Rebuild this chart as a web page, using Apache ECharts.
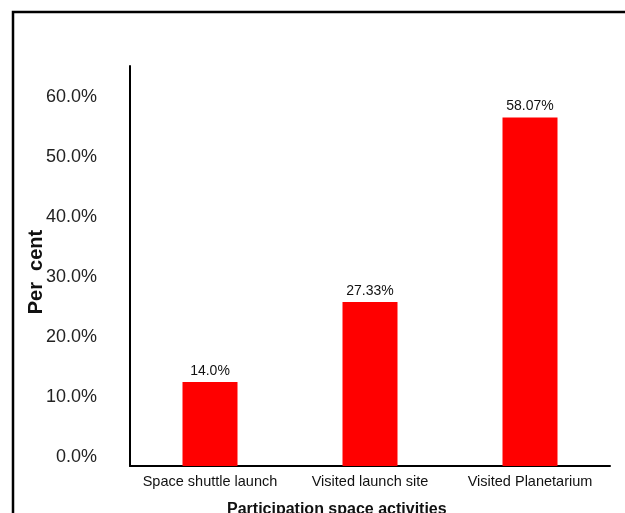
<!DOCTYPE html>
<html>
<head>
<meta charset="utf-8">
<script src="https://cdn.jsdelivr.net/npm/echarts@6/dist/echarts.min.js"></script>
<style>
  html, body { margin: 0; padding: 0; background: #fff; }
  #chart { width: 625px; height: 513px; }
</style>
</head>
<body>
<div id="chart"></div>
<script>
var categories = ['Space shuttle launch', 'Visited launch site', 'Visited Planetarium'];
var percents = [14.0, 27.33, 58.07];

var chart = echarts.init(document.getElementById('chart'));
var font = '"Liberation Sans", Arial, sans-serif';

var option = {
    animation: false,
    backgroundColor: '#fff',
    textStyle: { fontFamily: font },
    title: {
        text: 'Participation space activities',
        left: 222,
        top: 497,
        textStyle: { fontSize: 16, fontWeight: 'bold', color: '#111', fontFamily: font }
    },
    graphic: [
        {
            type: 'polyline',
            shape: { points: [[13, 520], [13, 12], [630, 12]] },
            style: { stroke: '#000', lineWidth: 2.5, fill: null }
        }
    ],
    grid: {
        left: 130,
        right: 15,
        top: 66,
        bottom: 47,
        containLabel: false
    },
    xAxis: {
        type: 'category',
        data: categories,
        axisLine: { lineStyle: { color: '#000', width: 2 } },
        axisTick: { show: false },
        axisLabel: { color: '#111', fontSize: 14.5, margin: 8, interval: 0 }
    },
    yAxis: {
        type: 'value',
        min: 0,
        max: 66.67,
        interval: 10,
        name: 'Per  cent',
        nameLocation: 'middle',
        nameRotate: 90,
        nameGap: 84,
        nameMoveOverlap: false,
        nameTextStyle: { fontSize: 20, fontWeight: 'bold', color: '#111', padding: [0, 12, 0, 0] },
        splitLine: { show: false },
        axisTick: { show: false },
        axisLine: { show: true, lineStyle: { color: '#000', width: 2 } },
        axisLabel: {
            color: '#222',
            fontSize: 18,
            margin: 33,
            verticalAlign: 'bottom',
            showMaxLabel: false,
            formatter: function (v) { return v.toFixed(1) + '%'; }
        }
    },
    series: [
        {
            type: 'bar',
            data: percents,
            barWidth: 55,
            itemStyle: { color: '#ff0000' },
            label: {
                show: true,
                position: 'top',
                distance: 4,
                color: '#111',
                fontSize: 14,
                formatter: function (p) {
                    var v = p.value;
                    return (Number.isInteger(v) ? v.toFixed(1) : String(v)) + '%';
                }
            }
        }
    ]
};
chart.setOption(option);
</script>
</body>
</html>
